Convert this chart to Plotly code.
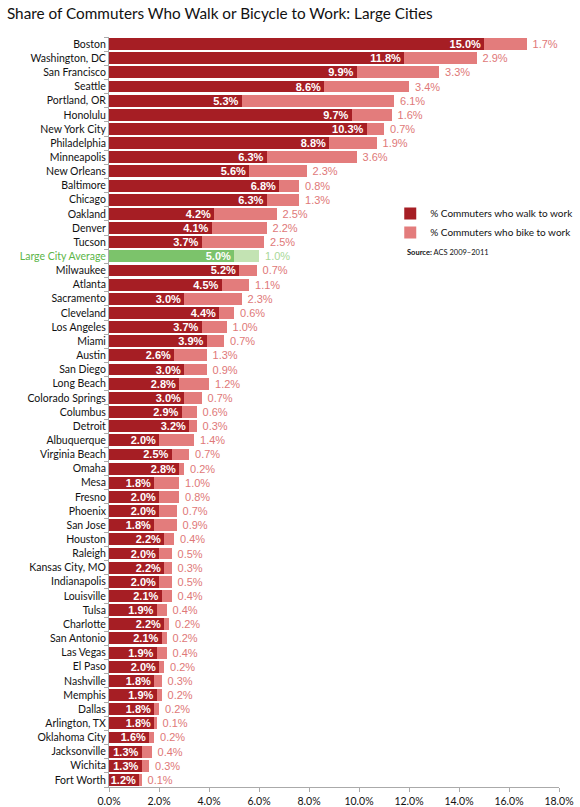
import plotly.graph_objects as go

# Share of commuters (%) - ACS 2009-2011
cities = [
    "Boston", "Washington, DC", "San Francisco", "Seattle", "Portland, OR",
    "Honolulu", "New York City", "Philadelphia", "Minneapolis", "New Orleans",
    "Baltimore", "Chicago", "Oakland", "Denver", "Tucson",
    "Large City Average", "Milwaukee", "Atlanta", "Sacramento", "Cleveland",
    "Los Angeles", "Miami", "Austin", "San Diego", "Long Beach",
    "Colorado Springs", "Columbus", "Detroit", "Albuquerque", "Virginia Beach",
    "Omaha", "Mesa", "Fresno", "Phoenix", "San Jose",
    "Houston", "Raleigh", "Kansas City, MO", "Indianapolis", "Louisville",
    "Tulsa", "Charlotte", "San Antonio", "Las Vegas", "El Paso",
    "Nashville", "Memphis", "Dallas", "Arlington, TX", "Oklahoma City",
    "Jacksonville", "Wichita", "Fort Worth",
]
walk = [
    15.0, 11.8, 9.9, 8.6, 5.3,
    9.7, 10.3, 8.8, 6.3, 5.6,
    6.8, 6.3, 4.2, 4.1, 3.7,
    5.0, 5.2, 4.5, 3.0, 4.4,
    3.7, 3.9, 2.6, 3.0, 2.8,
    3.0, 2.9, 3.2, 2.0, 2.5,
    2.8, 1.8, 2.0, 2.0, 1.8,
    2.2, 2.0, 2.2, 2.0, 2.1,
    1.9, 2.2, 2.1, 1.9, 2.0,
    1.8, 1.9, 1.8, 1.8, 1.6,
    1.3, 1.3, 1.2,
]
bike = [
    1.7, 2.9, 3.3, 3.4, 6.1,
    1.6, 0.7, 1.9, 3.6, 2.3,
    0.8, 1.3, 2.5, 2.2, 2.5,
    1.0, 0.7, 1.1, 2.3, 0.6,
    1.0, 0.7, 1.3, 0.9, 1.2,
    0.7, 0.6, 0.3, 1.4, 0.7,
    0.2, 1.0, 0.8, 0.7, 0.9,
    0.4, 0.5, 0.3, 0.5, 0.4,
    0.4, 0.2, 0.2, 0.4, 0.2,
    0.3, 0.2, 0.2, 0.1, 0.2,
    0.4, 0.3, 0.1,
]
x_ticks = [0, 2, 4, 6, 8, 10, 12, 14, 16, 18]

DARK = "#a61e24"
LIGHT = "#e37c7c"
GREEN = "#7cc36b"
LIGHT_GREEN = "#c3e3b3"
AVG = "Large City Average"

walk_colors = [GREEN if c == AVG else DARK for c in cities]
bike_colors = [LIGHT_GREEN if c == AVG else LIGHT for c in cities]
bike_text_colors = ["#a8d898" if c == AVG else "#e07878" for c in cities]
tick_text = [f'<span style="color:#5cb548">{c}</span>' if c == AVG else c for c in cities]

fig = go.Figure()
fig.add_trace(go.Bar(
    y=cities, x=walk, orientation="h", name="% Commuters who walk to work",
    marker=dict(color=walk_colors, line=dict(width=0)),
    text=[f"{v:.1f}%" for v in walk], textposition="inside",
    insidetextanchor="end", constraintext="none",
    textfont=dict(family="Liberation Sans", size=11, color="white", weight="bold"),
))
fig.add_trace(go.Bar(
    y=cities, x=bike, orientation="h", name="% Commuters who bike to work",
    marker=dict(color=bike_colors, line=dict(width=0)),
    text=[f"\u00a0{v:.1f}%" for v in bike], textposition="outside",
    constraintext="none", cliponaxis=False,
    textfont=dict(family="Liberation Sans", size=11, color=bike_text_colors),
))

fig.update_layout(
    width=580, height=807,
    barmode="stack", bargap=0.16,
    plot_bgcolor="white", paper_bgcolor="white",
    margin=dict(l=109, r=21, t=37, b=20, autoexpand=False),
    title=dict(text="Share of Commuters Who Walk or Bicycle to Work: Large Cities",
               x=0.012, xanchor="left", y=0.99, yanchor="top",
               font=dict(family="Lato", size=15.3, color="#111")),
    font=dict(family="Lato", size=10.5, color="#111"),
    legend=dict(x=0.625, y=0.784, xanchor="left", yanchor="top",
                traceorder="normal",
                font=dict(family="Lato", size=10, color="#111"),
                itemwidth=30, tracegroupgap=0, bgcolor="rgba(0,0,0,0)"),
    annotations=[dict(text="<b>Source:</b> ACS 2009–2011", xref="paper", yref="paper",
                      x=0.658, y=0.713, xanchor="left", yanchor="middle",
                      showarrow=False, font=dict(family="Lato", size=7.5, color="#111"))],
)
fig.update_xaxes(range=[0, 18], tickvals=x_ticks,
                 ticktext=[f"{v:.1f}%" for v in x_ticks],
                 showgrid=False, zeroline=False, showline=True, linecolor="#aaa",
                 ticks="outside", ticklen=4, tickcolor="#aaa", automargin=False,
                 tickfont=dict(family="Lato", size=10.5, color="#111"))
fig.update_yaxes(autorange="reversed", tickvals=cities, ticktext=tick_text,
                 showgrid=False, showline=True, linecolor="#aaa", automargin=False,
                 ticks="outside", ticklen=4, tickcolor="#aaa", tickson="boundaries",
                 tickfont=dict(family="Lato", size=10.5, color="#111"))

# drop the default page margin so the figure sits at the window's corner
fig.write_html("out.html", config={"displayModeBar": False},
               post_script="document.body.style.margin='0';")
